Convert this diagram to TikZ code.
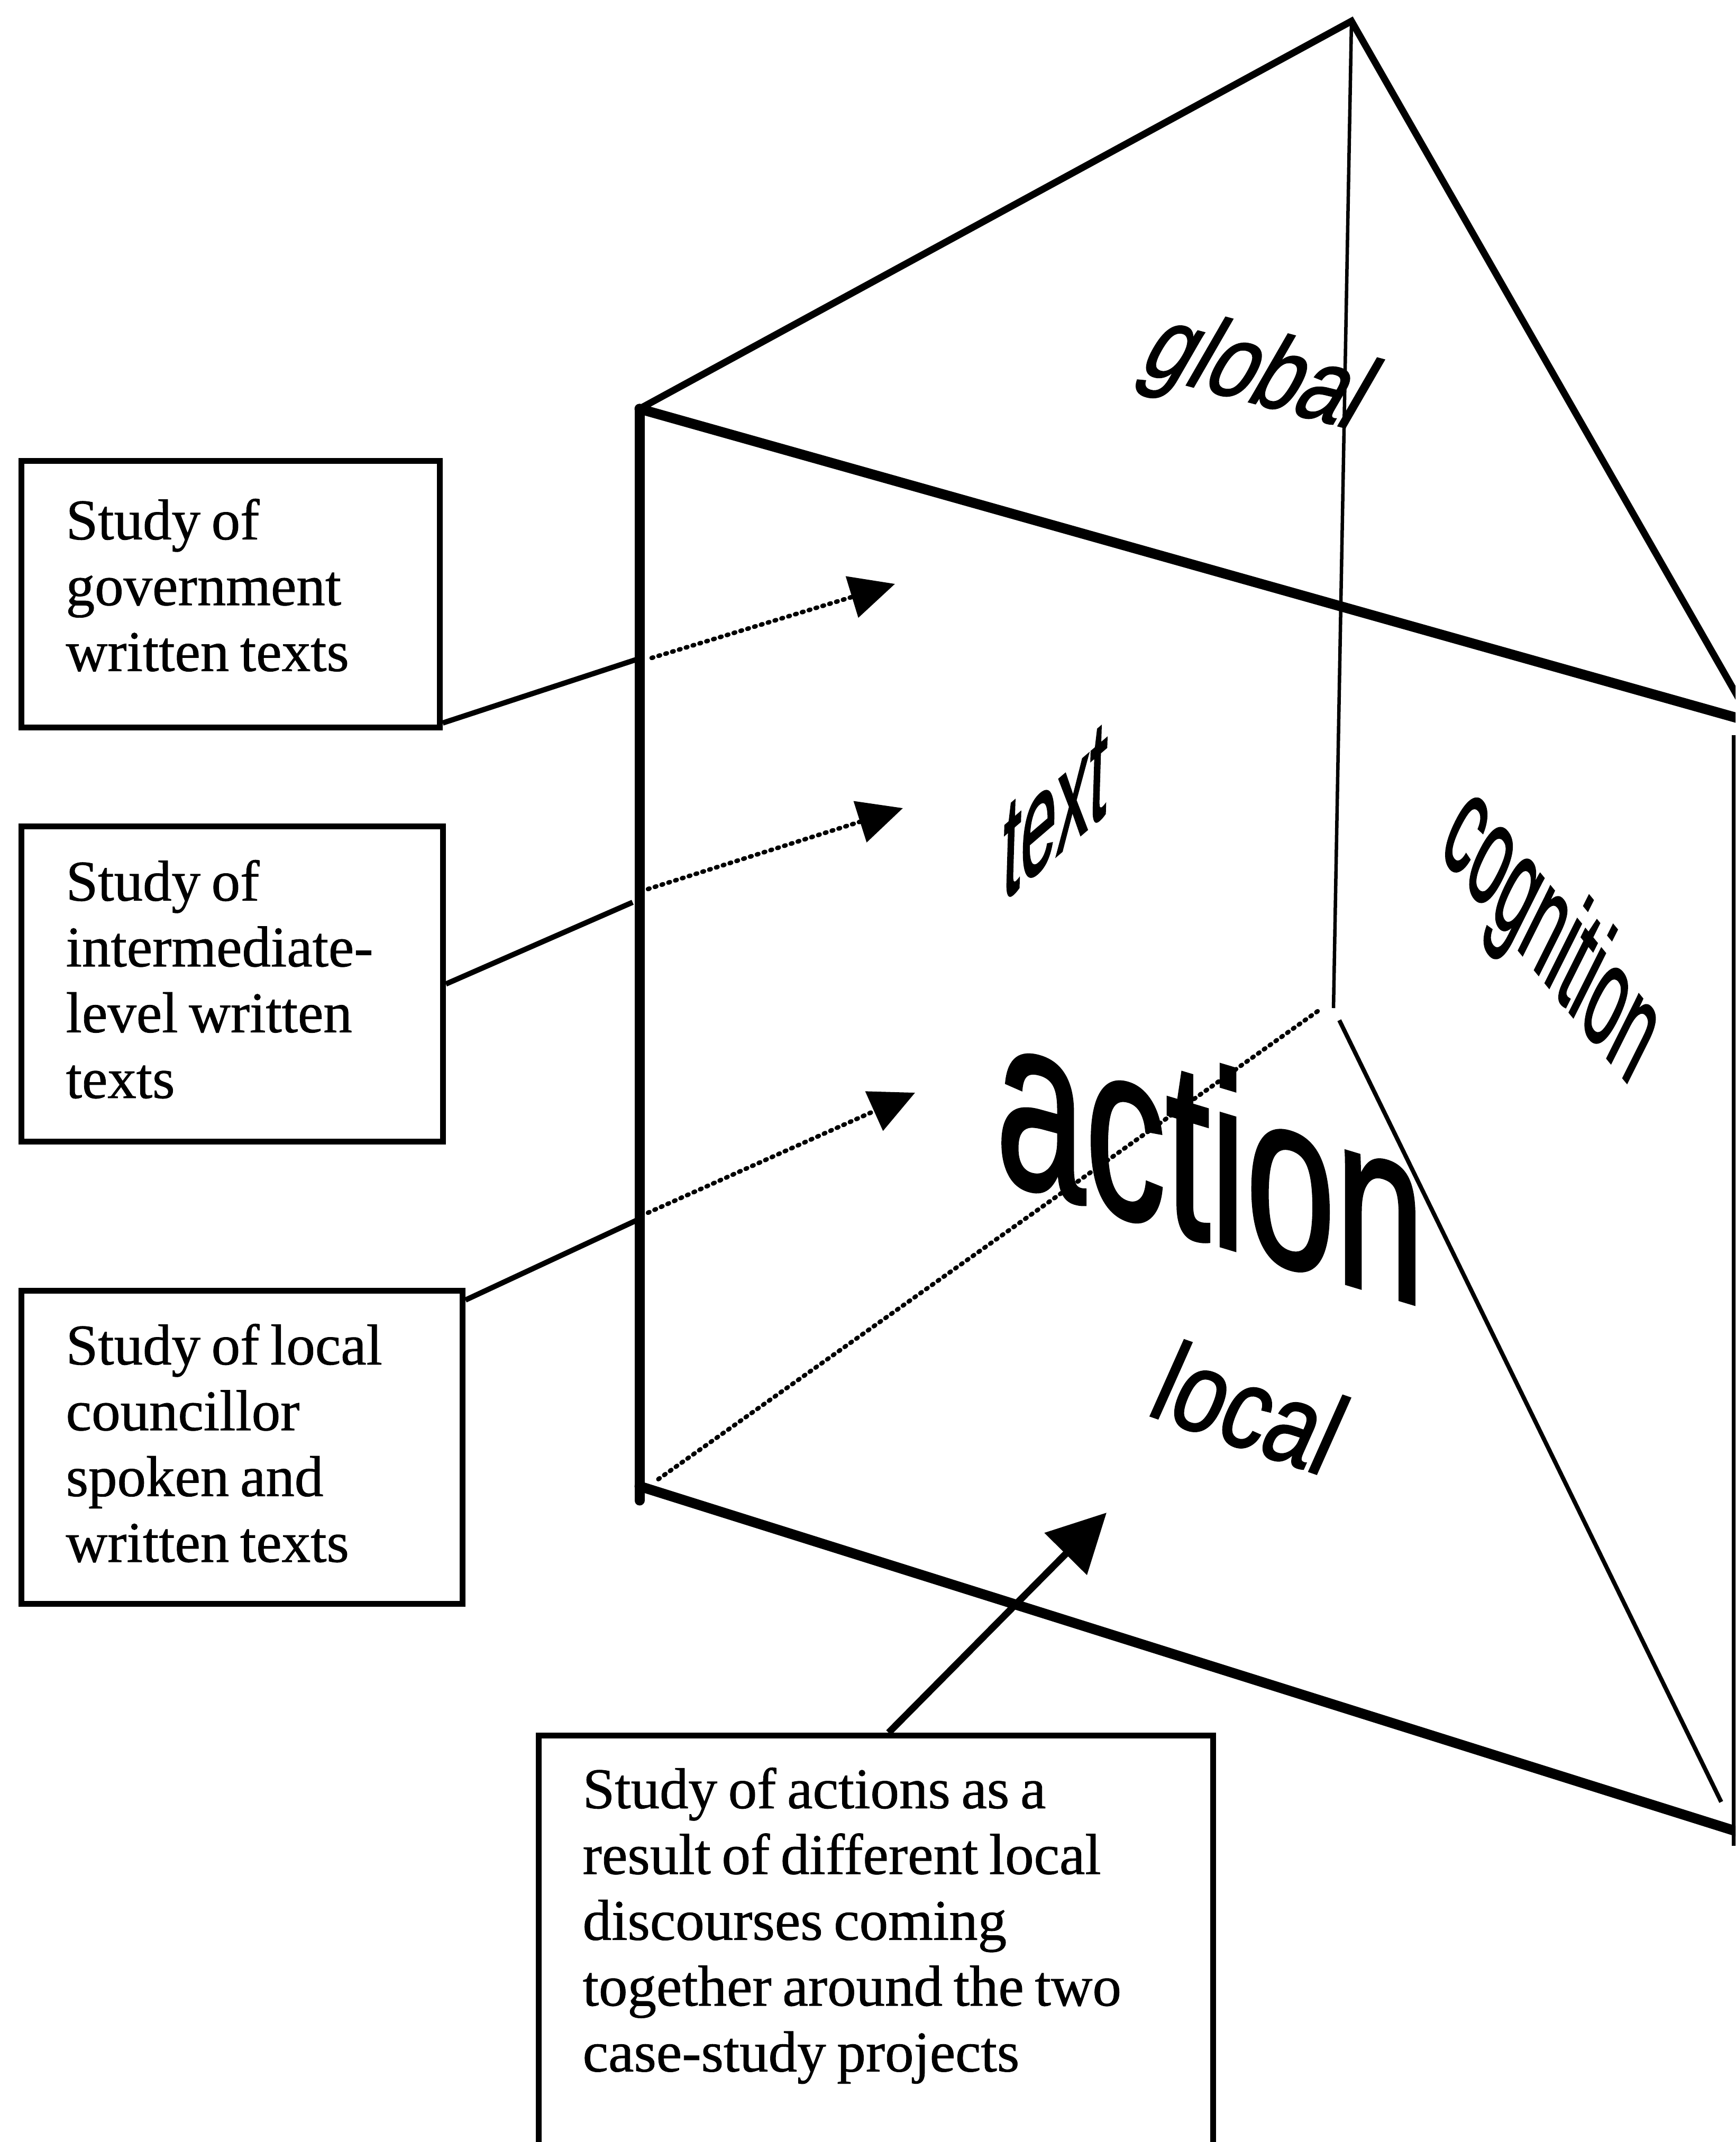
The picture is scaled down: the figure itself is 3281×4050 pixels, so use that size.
\documentclass[tikz,border=0pt]{standalone}
\usepackage{fontspec}
\setmainfont[FakeBold=0.8]{Liberation Serif}
\newfontfamily\labelfont[FakeBold=1.6]{Liberation Sans}
\usetikzlibrary{arrows.meta}
\begin{document}
\begin{tikzpicture}[x=0.1mm,y=-0.1mm,
  frontedge/.style={line width=1.9mm, line cap=round, line join=round},
  sideedge/.style={line width=1.3mm, line cap=round},
  backedge/.style={line width=0.65mm},
  hiddenedge/.style={line width=0.85mm, line cap=round, dash pattern=on 0.3mm off 1.05mm},
  frame/.style={draw, line width=1.1mm, inner sep=0pt, anchor=north west},
  boxtext/.style={font=\fontsize{31}{35.4}\selectfont,
    execute at begin node={\spaceskip=5.9pt plus 1.5pt\relax},
    text width=#1, align=left, inner sep=0pt, anchor=north west},
  lead/.style={line width=1.0mm},
  guide/.style={line width=0.85mm, line cap=round, dash pattern=on 0.3mm off 1.05mm,
    -{Triangle[length=8.5mm,width=8mm]}},
  bigptr/.style={line width=1.3mm, -{Triangle[length=11mm,width=11mm]}},
  lbl/.style={inner sep=0pt, anchor=base, transform shape}
]
\useasboundingbox (0,0) rectangle (3281,4050);
\clip (0,0) rectangle (3281,4050);

% prism corners
\coordinate (apex) at (2555,40);
\coordinate (flt)  at (1209,773);
\coordinate (flb)  at (1209,2810);
\coordinate (flbx) at (1209,2837);
\coordinate (frt)  at (3300,1362);
\coordinate (frb)  at (3300,3468);
\coordinate (arn)  at (3300,1343);
\coordinate (frtop) at (3278,1390);
\coordinate (frbot) at (3278,3490);
\coordinate (back) at (2521,1906);
\coordinate (backl) at (2491,1912);
\coordinate (backr) at (2532,1929);
\coordinate (bfl)  at (1240,2800);
\coordinate (brb)  at (3254,3407);

% hidden and back edges
\draw[backedge] (apex) -- (back);
\draw[hiddenedge] (backl) -- (bfl);
\draw[backedge, line width=0.8mm] (backr) -- (brb);

% visible edges
\draw[sideedge] (flt) -- (apex) -- (arn);
\draw[frontedge] (flt) -- (flbx);
\draw[frontedge] (flt) -- (frt);
\draw[frontedge] (flb) -- (frb);
\draw[line width=0.9mm] (frtop) -- (frbot);

% face labels
\node[lbl, font=\labelfont\fontsize{58}{60}\selectfont,
  shift={(2351,757)}, cm={0.744,-0.2,0.5,0.866,(0,0)}] (lglobal) at (0,0) {global};
\node[lbl, font=\labelfont\fontsize{78}{80}\selectfont,
  shift={(1992,1623)}, cm={0.446,0.383,0.03,1,(0,0)}] (ltext) at (0,0) {text};
\node[lbl, font=\labelfont\fontsize{72}{74}\selectfont,
  shift={(2900,1832)}, cm={0.36,-0.44,0.45,0.9,(0,0)}] (lcog) at (0,0) {cognition};
\node[lbl, font=\labelfont\fontsize{134}{140}\selectfont,
  shift={(2288,2349)}, cm={0.645,-0.194,0,1,(0,0)}] (laction) at (0,0) {action};
\node[lbl, font=\labelfont\fontsize{61.6}{64}\selectfont,
  shift={(2332,2732)}, cm={0.755,-0.264,0.407,0.914,(0,0)}] (llocal) at (0,0) {local};

% study boxes
\node[frame, minimum width=79.1mm, minimum height=50.4mm] (b1) at (35,866) {};
\node[frame, minimum width=79.7mm, minimum height=59.6mm] (b2) at (35,1557) {};
\node[frame, minimum width=83.4mm, minimum height=59.2mm] (b3) at (35,2435) {};
\node[frame, minimum width=127.5mm, minimum height=90mm] (b4) at (1013,3276) {};

\node[boxtext=75mm] (t1) at (124,932) {\strut Study of\\government\\written texts};
\node[boxtext=75mm] (t2) at (124,1615) {\strut Study of\\intermediate-\\level written\\texts};
\node[boxtext=75mm] (t3) at (124,2492) {\strut Study of local\\councillor\\spoken and\\written texts};
\node[boxtext=115mm] (t4) at (1101,3331) {\strut Study of actions as a\\result of different local\\discourses coming\\together around the two\\case-study projects};

% connector points on the front face
\coordinate (e1) at (1203,1247);
\coordinate (d1) at (1232,1244);
\coordinate (a1) at (1692,1104);
\coordinate (e2) at (1196,1706);
\coordinate (d2) at (1225,1681);
\coordinate (a2) at (1707,1528);
\coordinate (e3) at (1204,2307);
\coordinate (d3) at (1225,2293);
\coordinate (a3) at (1730,2066);
\coordinate (a4) at (2092,2860);

\draw[lead] ([yshift=1.4mm]b1.south east) -- (e1);
\draw[guide] (d1) -- (a1);
\draw[lead] (b2.east) -- (e2);
\draw[guide] (d2) -- (a2);
\draw[lead] ([yshift=-2.3mm]b3.north east) -- (e3);
\draw[guide] (d3) -- (a3);
\draw[bigptr] ([xshift=2.4mm]b4.north) -- (a4);
\end{tikzpicture}
\end{document}
